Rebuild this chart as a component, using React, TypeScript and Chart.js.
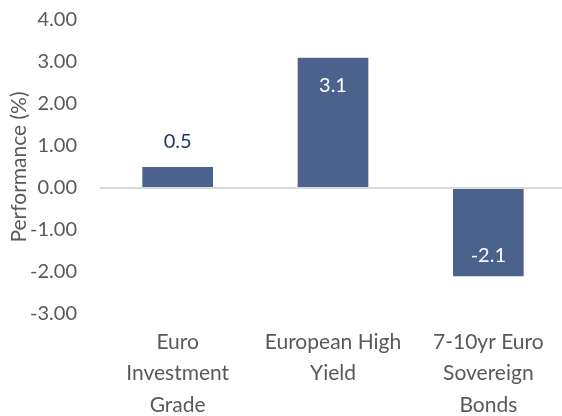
import React, { useEffect, useRef } from "react";
import { Chart, registerables } from "chart.js";

Chart.register(...registerables);

const categories: string[][] = [
  ["Euro", "Investment", "Grade"],
  ["European High", "Yield"],
  ["7-10yr Euro", "Sovereign", "Bonds"],
];
const performance: number[] = [0.5, 3.1, -2.1];
const labelInside: boolean[] = [false, true, true];
const yMin = -3;
const yMax = 4;
const yStep = 1;

const FONT = "Lato, 'Open Sans', sans-serif";

const dataLabels = {
  id: "dataLabels",
  afterDatasetsDraw(chart: any) {
    const ctx = chart.ctx;
    const meta = chart.getDatasetMeta(0);
    ctx.save();
    ctx.font = `20px ${FONT}`;
    ctx.textAlign = "center";
    ctx.textBaseline = "middle";
    meta.data.forEach((bar: any, i: number) => {
      const v = performance[i];
      const text = v.toFixed(1);
      let y: number;
      if (labelInside[i]) {
        ctx.fillStyle = "#ffffff";
        y = v >= 0 ? bar.y + 28 : bar.y - 21;
      } else {
        ctx.fillStyle = "#1F3864";
        y = v >= 0 ? bar.y - 25 : bar.y + 25;
      }
      ctx.fillText(text, bar.x, y);
    });
    ctx.restore();
  },
};

export default function App() {
  const ref = useRef<HTMLCanvasElement | null>(null);
  useEffect(() => {
    if (!ref.current) return;
    const chart = new Chart(ref.current, {
      type: "bar",
      data: {
        labels: categories,
        datasets: [
          {
            data: performance,
            backgroundColor: "#4B628D",
            borderWidth: 0,
            categoryPercentage: 1,
            barPercentage: 0.455,
          },
        ],
      },
      options: {
        responsive: false,
        animation: false,
        layout: { autoPadding: false, padding: { left: 0, right: 0, top: 20, bottom: 0 } },
        plugins: { legend: { display: false }, tooltip: { enabled: false } },
        scales: {
          x: {
            grid: { display: false, drawTicks: false },
            border: { display: false },
            ticks: {
              color: "#595959",
              font: { family: FONT, size: 21, lineHeight: 1.5 },
              padding: 12,
              maxRotation: 0,
              autoSkip: false,
            },
            afterFit(scale: any) {
              scale.height = 102;
            },
          },
          y: {
            min: yMin,
            max: yMax,
            grid: {
              drawTicks: true,
              tickLength: 23,
              tickColor: "rgba(0,0,0,0)",
              color: (c: any) => (c.tick && c.tick.value === 0 ? "#D9D9D9" : "rgba(0,0,0,0)"),
              lineWidth: 2,
            },
            border: { display: false },
            ticks: {
              stepSize: yStep,
              color: "#595959",
              font: { family: FONT, size: 20 },
              padding: 0,
              callback: (v: any) => Number(v).toFixed(2),
            },
            title: {
              display: true,
              text: "Performance (%)",
              color: "#595959",
              font: { family: FONT, size: 21 },
              padding: { top: 7, bottom: 0 },
            },
            afterFit(scale: any) {
              scale.width = 100;
            },
          },
        },
      },
      plugins: [dataLabels],
    });
    return () => chart.destroy();
  }, []);
  return (
    <div style={{ position: "fixed", left: 0, top: 0, width: 562, height: 416, overflow: "hidden", background: "#fff" }}>
      <canvas ref={ref} width={566} height={416} style={{ display: "block" }} />
    </div>
  );
}
